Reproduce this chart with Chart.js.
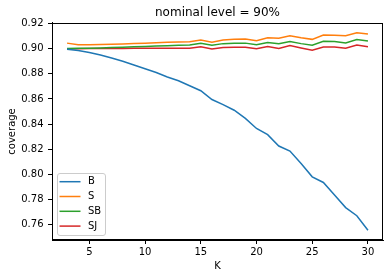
<!DOCTYPE html>
<html><head><meta charset="utf-8">
<script src="https://cdn.jsdelivr.net/npm/chart.js@4.4.1/dist/chart.umd.min.js"></script>
<style>html,body{margin:0;padding:0;background:#fff;}</style>
</head><body>
<canvas id="c" width="392" height="278" style="width:392px;height:278px;display:block"></canvas>
<script>
const K = [3,4,5,6,7,8,9,10,11,12,13,14,15,16,17,18,19,20,21,22,23,24,25,26,27,28,29,30];
const B = [0.8995,0.8985,0.897,0.895,0.8925,0.890,0.887,0.884,0.881,0.8775,0.8745,0.8705,0.8665,0.8595,0.8555,0.851,0.8445,0.8365,0.8315,0.8225,0.8185,0.8085,0.798,0.7935,0.7835,0.7735,0.767,0.7555];
const S = [0.9044,0.9032,0.9032,0.9034,0.9036,0.9038,0.9041,0.9044,0.9047,0.905,0.9052,0.9055,0.9068,0.9052,0.9068,0.9074,0.9077,0.9063,0.9087,0.9082,0.9103,0.9087,0.9074,0.9108,0.9107,0.9103,0.9127,0.9116];
const SB = [0.9002,0.9003,0.9004,0.9006,0.9009,0.9012,0.9015,0.9018,0.9021,0.9024,0.9027,0.9029,0.9042,0.9028,0.904,0.9043,0.9044,0.9032,0.9048,0.904,0.9057,0.904,0.9028,0.9058,0.9056,0.9045,0.9072,0.906];
const SJ = [0.8998,0.9,0.9001,0.9001,0.9002,0.9002,0.9003,0.9003,0.9003,0.9004,0.9004,0.9004,0.9015,0.8997,0.9009,0.9011,0.9011,0.8999,0.9018,0.9001,0.9024,0.9005,0.8988,0.9013,0.9013,0.9003,0.9029,0.9015];
const seriesNames = ['B','S','SB','SJ'];
const xTicks = [5,10,15,20,25,30];
const yTicks = [0.76,0.78,0.80,0.82,0.84,0.86,0.88,0.90,0.92];
const titleText = 'nominal level = 90%';
const xLabel = 'K';
const yLabel = 'coverage';

const colors = ['#1f77b4','#ff7f0e','#2ca02c','#d62728'];
const FONT = 'DejaVu Sans';
Chart.defaults.color = '#000';
Chart.defaults.font.family = FONT;

const series = [B,S,SB,SJ];
const datasets = series.map((arr,i)=>({
  label: seriesNames[i],
  data: K.map((k,j)=>({x:k,y:arr[j]})),
  borderColor: colors[i],
  backgroundColor: colors[i],
  borderWidth: 1.5,
  pointRadius: 0,
  tension: 0,
  fill: false
}));

const framePlugin = {
  id:'frame',
  afterDatasetsDraw(chart){
    const {ctx, chartArea:a} = chart;
    ctx.save();
    ctx.strokeStyle='#000'; ctx.lineWidth=1;
    ctx.strokeRect(Math.round(a.left)+0.5, Math.round(a.top)+0.5, Math.round(a.right-a.left)-1, Math.round(a.bottom-a.top)-1);
    ctx.restore();
  }
};

const legendPlugin = {
  id:'mplLegend',
  afterDraw(chart){
    const {ctx, chartArea:a} = chart;
    const ds = chart.data.datasets;
    const left = a.left + 5, bottom = a.bottom - 5;
    const rowH = 14.8, w = 48, h = 62;
    const top = bottom - h;
    ctx.save();
    ctx.fillStyle='rgba(255,255,255,0.8)';
    ctx.strokeStyle='#cccccc'; ctx.lineWidth=1;
    const r=2.5;
    ctx.beginPath();
    ctx.moveTo(left+r+0.5, top+0.5);
    ctx.arcTo(left+w+0.5, top+0.5, left+w+0.5, bottom+0.5, r);
    ctx.arcTo(left+w+0.5, bottom+0.5, left+0.5, bottom+0.5, r);
    ctx.arcTo(left+0.5, bottom+0.5, left+0.5, top+0.5, r);
    ctx.arcTo(left+0.5, top+0.5, left+w+0.5, top+0.5, r);
    ctx.closePath();
    ctx.fill(); ctx.stroke();
    ctx.font = '10px "'+FONT+'"';
    ctx.textBaseline='middle'; ctx.textAlign='left';
    ds.forEach((d,i)=>{
      const y = top + 8.7 + i*rowH;
      ctx.strokeStyle=d.borderColor; ctx.lineWidth=1.5;
      ctx.beginPath(); ctx.moveTo(left+2.5, y); ctx.lineTo(left+23.5, y); ctx.stroke();
      ctx.fillStyle='#000';
      ctx.fillText(d.label, left+31, y);
    });
    ctx.restore();
  }
};

new Chart(document.getElementById('c'), {
  type:'line',
  data:{datasets},
  plugins:[framePlugin, legendPlugin],
  options:{
    responsive:false, animation:false, devicePixelRatio:1,
    layout:{padding:{left:0,right:9,top:0,bottom:0}},
    plugins:{
      legend:{display:false},
      tooltip:{enabled:false},
      title:{display:true, text:titleText, fullSize:false, font:{size:12, weight:'normal', family:FONT}, color:'#000', padding:{top:6,bottom:2.5}}
    },
    scales:{
      x:{
        type:'linear', min:1.65, max:31.35,
        afterBuildTicks(s){ s.ticks = xTicks.map(v=>({value:v})); },
        afterFit(s){ s.height = 38; },
        ticks:{font:{size:10,family:FONT}, color:'#000', padding:2.5, maxRotation:0, autoSkip:false, callback:v=>String(v)},
        grid:{display:true, drawOnChartArea:false, drawTicks:true, tickLength:4, color:'#000', lineWidth:1},
        border:{display:true, color:'#000', width:1},
        title:{display:true, text:xLabel, font:{size:10,family:FONT}, color:'#000', padding:{top:2,bottom:6}}
      },
      y:{
        type:'linear', min:0.7477, max:0.9205,
        afterBuildTicks(s){ s.ticks = yTicks.map(v=>({value:v})); },
        afterFit(s){ s.width = 52; },
        ticks:{font:{size:10,family:FONT}, color:'#000', padding:4.5, autoSkip:false, callback:v=>v.toFixed(2)},
        grid:{display:true, drawOnChartArea:false, drawTicks:true, tickLength:4, color:'#000', lineWidth:1},
        border:{display:true, color:'#000', width:1},
        title:{display:true, text:yLabel, font:{size:10,family:FONT}, color:'#000', padding:{top:6.5,bottom:0}}
      }
    }
  }
});
</script>
</body></html>
